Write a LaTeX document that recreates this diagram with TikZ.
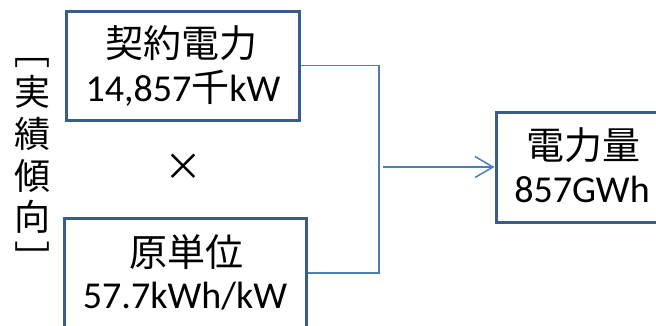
\documentclass[tikz,border=0pt]{standalone}
\usepackage{fontspec}
\setmainfont{Carlito}
\newfontfamily\cjk{Noto Sans CJK JP}
\usetikzlibrary{arrows.meta}
\definecolor{boxc}{HTML}{385D8A}
\definecolor{linec}{HTML}{4A7EBB}
\begin{document}
\begin{tikzpicture}[x=1pt,y=-1pt,
  box/.style={draw=boxc,line width=3pt,inner sep=0pt,fill=white},
  conn/.style={draw=linec,line width=1.5pt},
  big/.style={font=\fontsize{38pt}{42pt}\selectfont,inner sep=0pt},
  vtext/.style={font=\fontsize{36pt}{41.7pt}\selectfont\cjk,inner sep=0pt,align=center}]
\useasboundingbox (0,0) rectangle (656,325);
\clip (0,0) rectangle (656,325);
% boxes
\node[box,minimum width=233pt,minimum height=109pt] (top) at (182.5,65.5) {};
\node[box,minimum width=242pt,minimum height=110pt] (bot) at (185,273) {};
\node[box,minimum width=174pt,minimum height=110pt] (res) at (583,167) {};
% texts
\node[big,anchor=base] (t1) at (181.5,57) {\cjk 契約電力};
\node[big,anchor=base] (t2) at (183,101) {14,857{\cjk 千}kW};
\node[big,anchor=base] (b1) at (186,266) {\cjk 原単位};
\node[big,anchor=base] (b2) at (185,308) {57.7kWh/kW};
\node[big,anchor=base] (r1) at (583,159) {\cjk 電力量};
\node[big,anchor=base] (r2) at (582,202) {857GWh};
\node[big] (times) at (183,167) {\cjk ×};
% vertical label
\node[vtext] (side) at (32,154.5) {実\\績\\傾\\向};
\node[vtext,anchor=base] (lb) at (32,64) {﹇};
\node[vtext,anchor=base] (rb) at (32,272) {﹈};
% connectors
\coordinate (j1) at (379,65.5);
\coordinate (j2) at (379,273);
\coordinate (a0) at (383,167);
\draw[conn] (top.east) -- (j1) -- (j2) -- (bot.east);
\draw[conn,-{Straight Barb[length=18pt,width=21pt,line width=1.5pt]}] (a0) -- (res.west);
\end{tikzpicture}
\end{document}
